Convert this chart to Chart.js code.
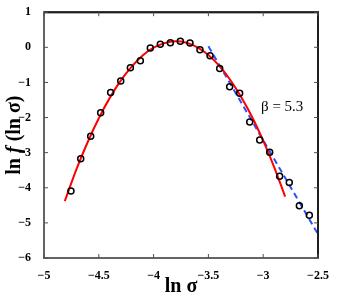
<!DOCTYPE html>
<html>
<head>
<meta charset="utf-8">
<script src="https://cdn.jsdelivr.net/npm/chart.js@4"></script>
<style>
  html, body { margin: 0; padding: 0; background: #fff; }
  #wrap { width: 354px; height: 300px; }
</style>
</head>
<body>
<div id="wrap"><canvas id="chart"></canvas></div>
<script>
// measured points (ln sigma, ln f)
const dataX = [-4.754, -4.665, -4.574, -4.483, -4.392, -4.300, -4.212, -4.121, -4.030, -3.939,
               -3.847, -3.756, -3.668, -3.577, -3.485, -3.397, -3.306, -3.215, -3.123, -3.032,
               -2.941, -2.850, -2.762, -2.670, -2.579];
const dataY = [-4.09, -3.17, -2.53, -1.86, -1.29, -0.96, -0.58, -0.38, -0.02, 0.09,
               0.13, 0.17, 0.12, -0.07, -0.24, -0.60, -1.12, -1.31, -2.13, -2.64,
               -2.99, -3.67, -3.85, -4.51, -4.78];

// red fit curve
const fitX = [-4.81, -4.7, -4.6, -4.5, -4.4, -4.3, -4.2, -4.1, -4.0, -3.9, -3.8,
              -3.7, -3.6, -3.5, -3.4, -3.3, -3.2, -3.1, -3.0, -2.9, -2.8];
const fitY = [-4.38, -3.44, -2.69, -2.02, -1.44, -0.95, -0.55, -0.23, -0.01, 0.12, 0.17,
              0.13, 0.00, -0.22, -0.53, -0.93, -1.42, -1.99, -2.66, -3.41, -4.25];

// blue dashed power-law tail
const tailX = [-3.5, -2.5];
const tailY = [0.03, -5.32];

const xTicks = [-5, -4.5, -4, -3.5, -3, -2.5];
const yTicks = [-6, -5, -4, -3, -2, -1, 0, 1];

function pts(xs, ys) {
    return xs.map((x, i) => ({ x: x, y: ys[i] }));
}
function fmt(v) {
    return String(v).replace('-', '\u2212');
}

// axis box + inward ticks
const box = {
    id: 'box',
    afterDraw(chart) {
        const ctx = chart.ctx;
        const a = chart.chartArea;
        const xs = chart.scales.x, ys = chart.scales.y;
        ctx.save();
        ctx.lineWidth = 2;
        ctx.strokeStyle = 'rgb(100,100,100)';
        ctx.strokeRect(a.left, a.top, a.right - a.left, a.bottom - a.top);
        ctx.strokeStyle = 'rgb(30,30,30)';
        ctx.beginPath();
        ctx.moveTo(a.left, a.top);
        ctx.lineTo(a.right, a.top);
        ctx.lineTo(a.right, a.bottom);
        ctx.stroke();

        ctx.lineWidth = 1;
        ctx.strokeStyle = 'rgb(80,80,80)';
        ctx.beginPath();
        xTicks.forEach(v => {
            const p = xs.getPixelForValue(v);
            ctx.moveTo(p, a.bottom); ctx.lineTo(p, a.bottom - 4);
            ctx.moveTo(p, a.top); ctx.lineTo(p, a.top + 4);
        });
        yTicks.forEach(v => {
            const p = ys.getPixelForValue(v);
            ctx.moveTo(a.left, p); ctx.lineTo(a.left + 4, p);
            ctx.moveTo(a.right, p); ctx.lineTo(a.right - 4, p);
        });
        ctx.stroke();
        ctx.restore();
    }
};

// axis titles and the beta label
const labels = {
    id: 'labels',
    afterDraw(chart) {
        const ctx = chart.ctx;
        const a = chart.chartArea;
        const xs = chart.scales.x, ys = chart.scales.y;
        ctx.save();
        ctx.fillStyle = '#000';
        ctx.font = 'bold 20px "Liberation Serif"';
        ctx.textAlign = 'center';
        ctx.textBaseline = 'middle';
        ctx.fillText('ln \u03c3', (a.left + a.right) / 2, 287);

        ctx.font = '15px "Liberation Serif"';
        ctx.textAlign = 'left';
        ctx.fillText('\u03b2 = 5.3', xs.getPixelForValue(-3.02), ys.getPixelForValue(-1.69));

        ctx.translate(15, (a.top + a.bottom) / 2);
        ctx.rotate(-Math.PI / 2);
        const parts = [['ln ', 'bold 20px "Liberation Serif"'],
                       ['f', 'bold italic 20px "Liberation Serif"'],
                       [' (ln \u03c3)', 'bold 20px "Liberation Serif"']];
        let w = 0;
        parts.forEach(p => { ctx.font = p[1]; w += ctx.measureText(p[0]).width; });
        let cx = -w / 2;
        parts.forEach(p => {
            ctx.font = p[1];
            ctx.fillText(p[0], cx, 0);
            cx += ctx.measureText(p[0]).width;
        });
        ctx.restore();
    }
};

const tickFont = { family: 'Liberation Serif', size: 12, weight: 'bold' };

new Chart(document.getElementById('chart'), {
    type: 'scatter',
    data: {
        datasets: [
            {
                data: pts(dataX, dataY),
                borderColor: '#000',
                backgroundColor: 'rgba(0,0,0,0)',
                pointRadius: 3,
                pointBorderWidth: 1.5
            },
            {
                data: pts(fitX, fitY),
                borderColor: '#ff0000',
                borderWidth: 2,
                pointRadius: 0,
                showLine: true,
                tension: 0.4
            },
            {
                data: pts(tailX, tailY),
                borderColor: 'rgb(40,80,255)',
                borderWidth: 2,
                borderDash: [6, 4],
                pointRadius: 0,
                showLine: true
            }
        ]
    },
    options: {
        responsive: true,
        maintainAspectRatio: false,
        animation: false,
        layout: { padding: { top: 10, right: 36 } },
        plugins: {
            legend: { display: false }
        },
        scales: {
            x: {
                type: 'linear',
                min: -5, max: -2.5,
                afterFit(s) { s.height = 42; },
                grid: { display: false },
                ticks: {
                    stepSize: 0.5,
                    padding: 3,
                    color: '#000',
                    font: tickFont,
                    maxRotation: 0,
                    callback: v => fmt(v)
                }
            },
            y: {
                type: 'linear',
                min: -6, max: 1,
                afterFit(s) { s.width = 44; },
                grid: { display: false },
                ticks: {
                    stepSize: 1,
                    padding: 5,
                    color: '#000',
                    font: tickFont,
                    callback: v => fmt(v)
                }
            }
        }
    },
    plugins: [box, labels]
});
</script>
</body>
</html>
